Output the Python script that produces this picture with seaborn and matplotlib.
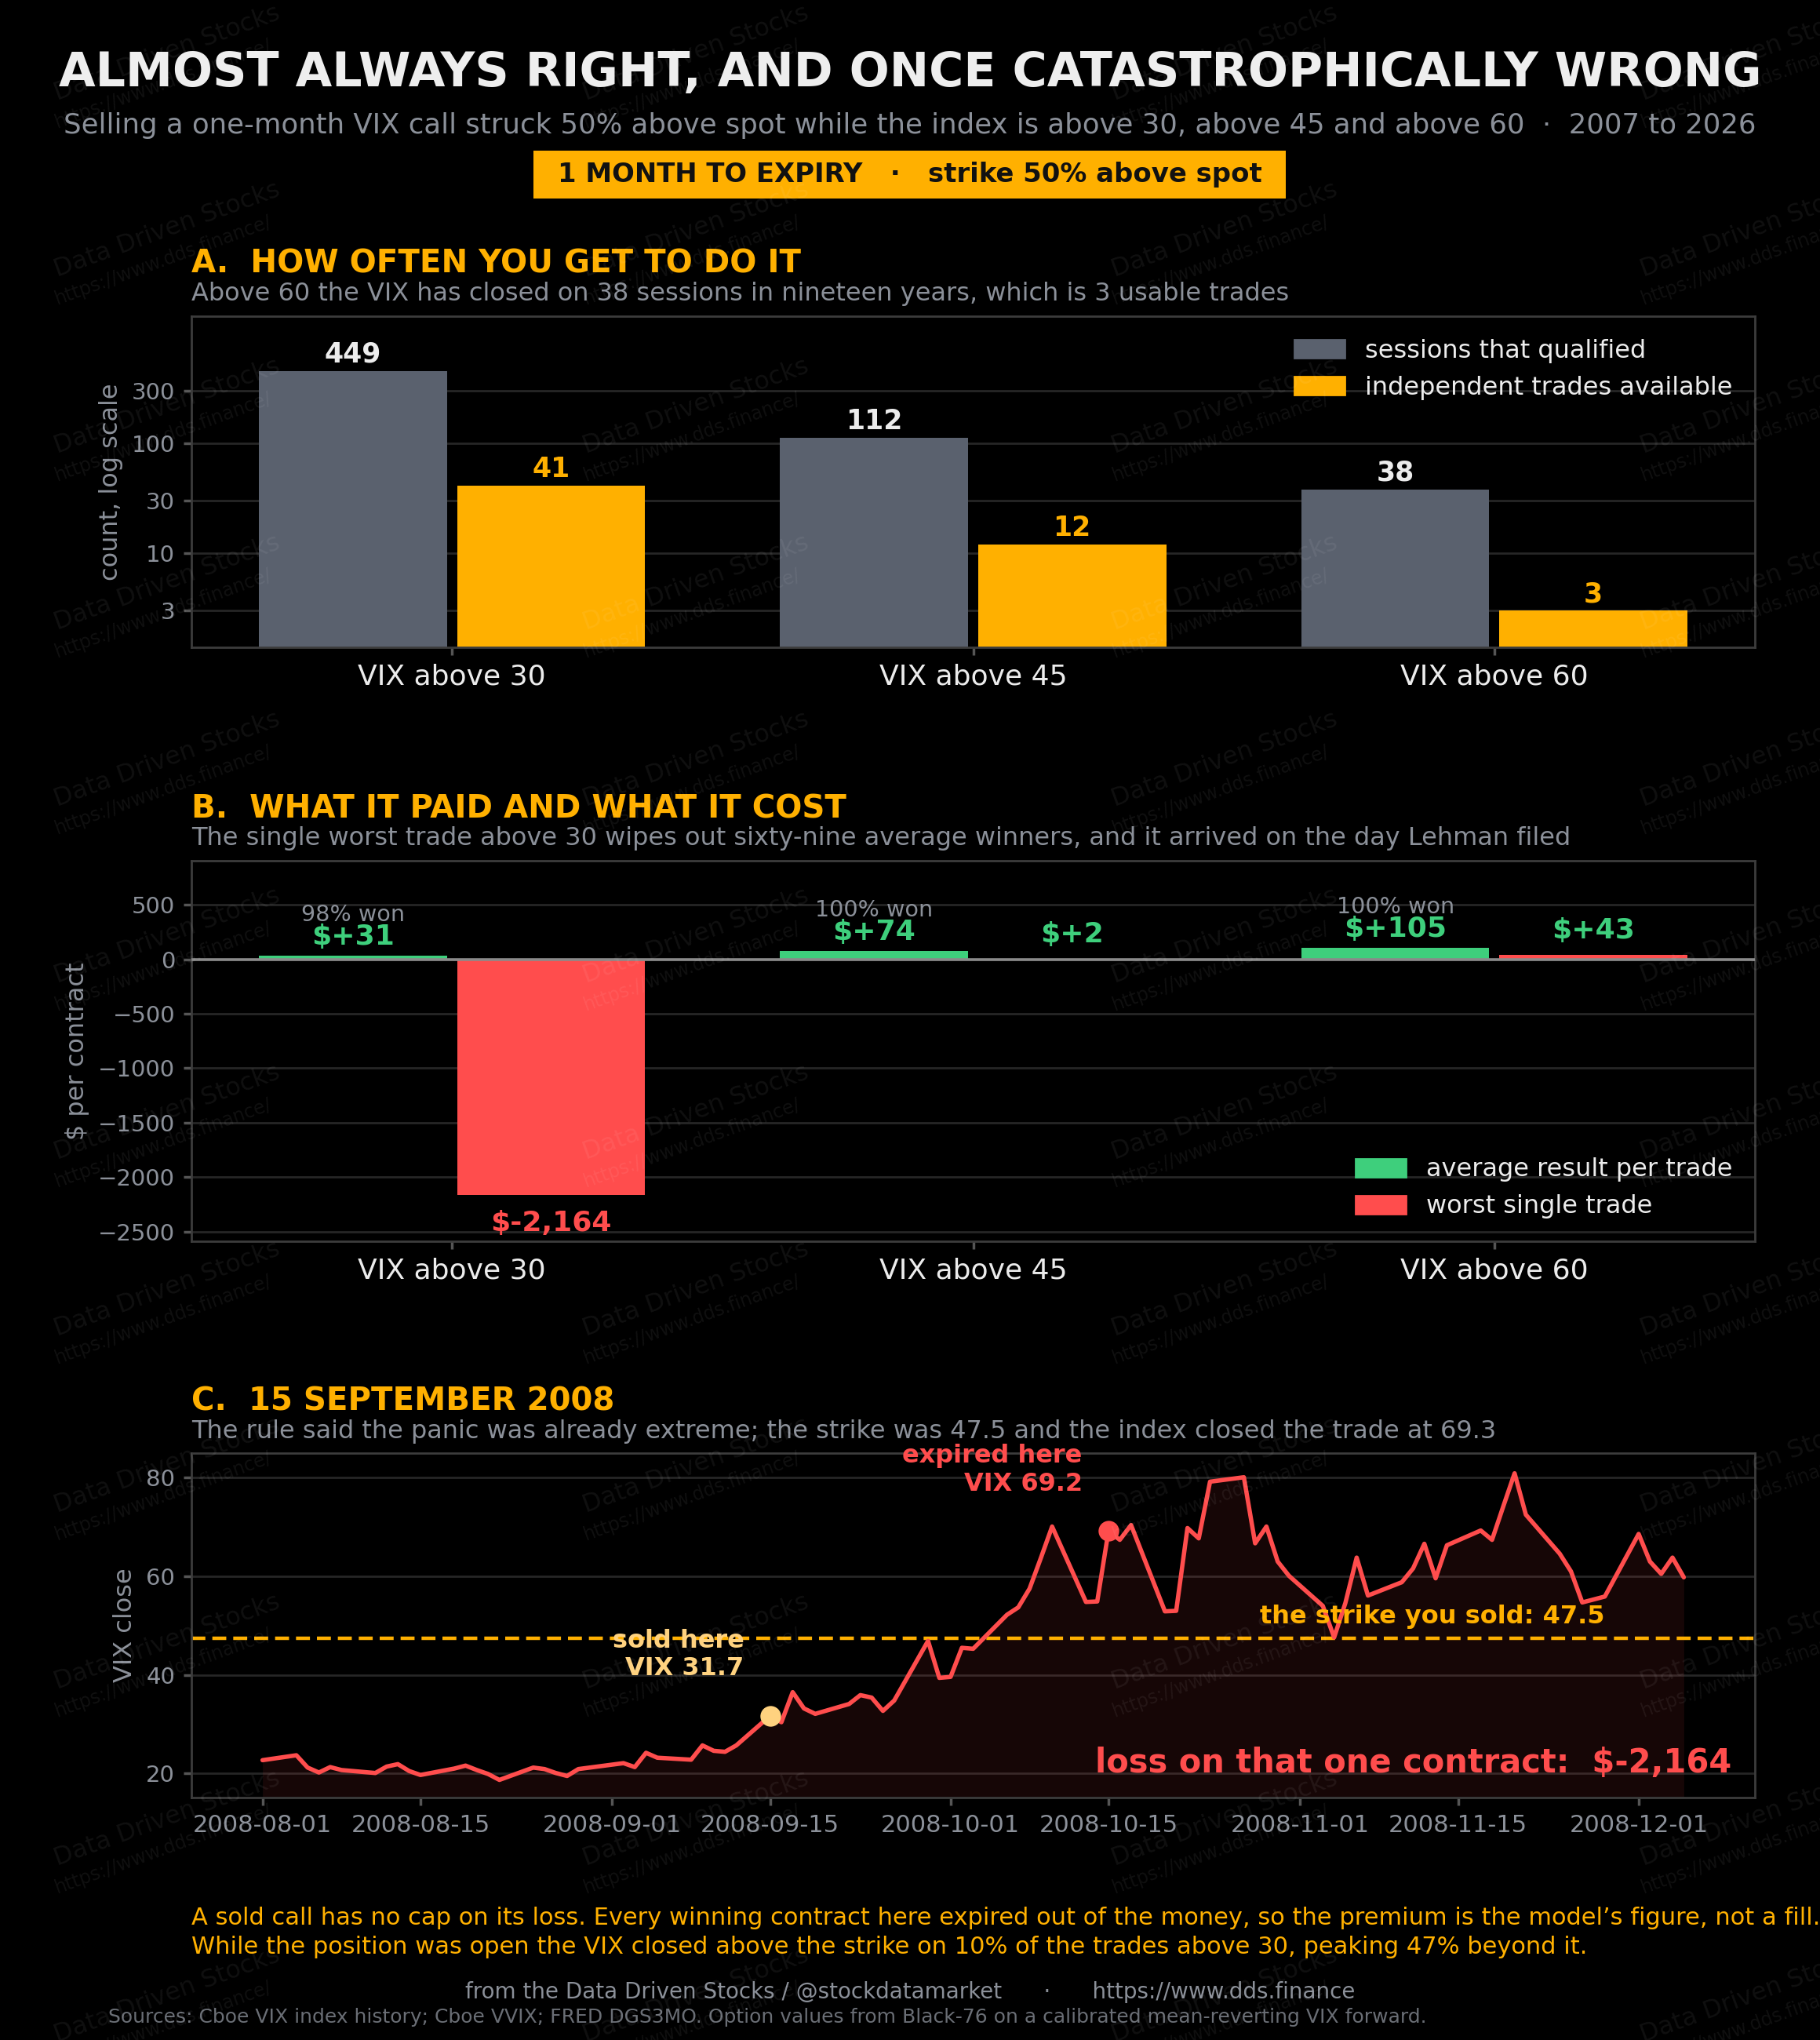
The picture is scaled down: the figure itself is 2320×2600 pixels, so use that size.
import numpy as np
import pandas as pd
import matplotlib
matplotlib.use("Agg")
import matplotlib.pyplot as plt
import matplotlib.dates as mdates
from matplotlib.patches import Rectangle, Patch
from matplotlib.ticker import NullLocator, FixedLocator
import seaborn as sns

# ------------------------------------------------------------
# data
# ------------------------------------------------------------
GROUPS = ["VIX above 30", "VIX above 45", "VIX above 60"]
SESSIONS = [449, 112, 38]
TRADES = [41, 12, 3]

AVG_RESULT = [31, 74, 105]
WORST_TRADE = [-2164, 2, 43]
WIN_RATE = [98, 100, 100]

AUG = ["2008-08-%02d" % d for d in [1, 4, 5, 6, 7, 8, 11, 12, 13, 14, 15, 18, 19, 20, 21, 22, 25, 26, 27, 28, 29]]
SEP = ["2008-09-%02d" % d for d in [2, 3, 4, 5, 8, 9, 10, 11, 12, 15, 16, 17, 18, 19, 22, 23, 24, 25, 26, 29, 30]]
OCT = ["2008-10-%02d" % d for d in [1, 2, 3, 6, 7, 8, 9, 10, 13, 14, 15, 16, 17, 20, 21, 22, 23, 24, 27, 28, 29, 30, 31]]
NOV = ["2008-11-%02d" % d for d in [3, 4, 5, 6, 7, 10, 11, 12, 13, 14, 17, 18, 19, 20, 21, 24, 25, 26, 28]]
DEC = ["2008-12-%02d" % d for d in [1, 2, 3, 4, 5]]
VIX_DATES = AUG + SEP + OCT + NOV + DEC

VIX_AUG = [22.7, 23.7, 21.2, 20.2, 21.3, 20.7, 20.1, 21.4, 21.9, 20.5, 19.7,
           21.0, 21.6, 20.7, 19.9, 18.7, 21.2, 20.9, 20.1, 19.5, 20.9]
VIX_SEP = [22.1, 21.3, 24.2, 23.2, 22.8, 25.7, 24.6, 24.4, 25.7, 31.7, 30.4,
           36.5, 33.2, 32.1, 34.1, 35.9, 35.4, 32.7, 34.8, 46.9, 39.4]
VIX_OCT = [39.6, 45.5, 45.3, 52.2, 53.7, 57.5, 63.7, 70.1, 54.8, 54.9, 69.2, 67.4,
           70.4, 52.9, 53.0, 69.8, 67.7, 79.2, 80.1, 66.7, 70.1, 63.0, 60.1]
VIX_NOV = [54.0, 47.6, 54.6, 63.8, 56.1, 58.8, 61.6, 66.6, 59.6, 66.3, 69.3, 67.4,
           74.2, 80.9, 72.5, 64.6, 61.0, 54.7, 55.9]
VIX_DEC = [68.6, 63.0, 60.5, 63.8, 59.8]
VIX_CLOSE = VIX_AUG + VIX_SEP + VIX_OCT + VIX_NOV + VIX_DEC

SOLD_DATE, SOLD_VIX = "2008-09-15", 31.7
EXPIRY_DATE, EXPIRY_VIX = "2008-10-15", 69.2
STRIKE = 47.5
LOSS = -2164

# ------------------------------------------------------------
# style
# ------------------------------------------------------------
BG = "#000000"
GREY_BAR = "#5a616e"
AMBER = "#ffb000"
LIGHT_AMBER = "#ffd27f"
GREEN = "#3ecf7c"
RED = "#ff4d4d"
TEXT = "#ececec"
MUTED = "#8b9099"
DIM = "#6a6e75"
GRID = "#262626"
SPINE = "#3c3c3c"
TICK = "#555555"

sns.set_theme(style="darkgrid", rc={
    "figure.facecolor": BG, "axes.facecolor": BG, "savefig.facecolor": BG,
    "axes.edgecolor": SPINE, "axes.linewidth": 1.0,
    "grid.color": GRID, "grid.linewidth": 1.0,
    "axes.grid": True, "axes.grid.axis": "y",
    "xtick.bottom": True, "ytick.left": True,
    "xtick.color": TICK, "ytick.color": TICK,
    "xtick.major.size": 3.5, "ytick.major.size": 3.5,
    "xtick.major.pad": 4, "ytick.major.pad": 4,
    "axes.labelcolor": MUTED, "text.color": TEXT,
})
plt.rcParams["font.family"] = ["DejaVu Sans"]

fig = plt.figure(figsize=(11.6, 13), dpi=200)

L, W = 0.1052, 0.859
ax_a = fig.add_axes([L, 0.6827, W, 0.1623])
ax_b = fig.add_axes([L, 0.3915, W, 0.1866])
ax_c = fig.add_axes([L, 0.1188, W, 0.1689])

# ------------------------------------------------------------
# header
# ------------------------------------------------------------
fig.text(0.5, 0.9577, "ALMOST ALWAYS RIGHT, AND ONCE CATASTROPHICALLY WRONG",
         ha="center", va="baseline", fontsize=21.7, fontweight="bold", color="#eeeeee")
fig.text(0.5, 0.9346, "Selling a one-month VIX call struck 50% above spot while the index is above 30, "
         "above 45 and above 60  \u00b7  2007 to 2026",
         ha="center", va="baseline", fontsize=12.8, color=MUTED)
fig.add_artist(Rectangle((0.293, 0.9027), 0.4135, 0.0235, transform=fig.transFigure,
                         facecolor=AMBER, edgecolor="none"))
fig.text(0.5, 0.9108, "1 MONTH TO EXPIRY   \u00b7   strike 50% above spot",
         ha="center", va="baseline", fontsize=12.2, fontweight="bold", color="#111111")


def section(y, head, sub):
    fig.text(L, y, head, ha="left", va="baseline", fontsize=14.5, fontweight="bold", color=AMBER)
    fig.text(L, y - 0.0135, sub, ha="left", va="baseline", fontsize=11.5, color=MUTED)


section(0.8662, "A.  HOW OFTEN YOU GET TO DO IT",
        "Above 60 the VIX has closed on 38 sessions in nineteen years, which is 3 usable trades")
section(0.5992, "B.  WHAT IT PAID AND WHAT IT COST",
        "The single worst trade above 30 wipes out sixty-nine average winners, and it arrived on the day Lehman filed")
section(0.3085, "C.  15 SEPTEMBER 2008",
        "The rule said the panic was already extreme; the strike was 47.5 and the index closed the trade at 69.3")

# ------------------------------------------------------------
# A. counts (log scale)
# ------------------------------------------------------------
lab_a = ["sessions that qualified", "independent trades available"]
df_a = pd.DataFrame({
    "group": GROUPS * 2,
    "count": SESSIONS + TRADES,
    "series": [lab_a[0]] * 3 + [lab_a[1]] * 3,
})
sns.barplot(df_a, x="group", y="count", hue="series", palette=[GREY_BAR, AMBER],
            width=0.76, gap=0.05, saturation=1, errorbar=None, legend=False,
            linewidth=0, edgecolor="none", ax=ax_a)
ax_a.set_yscale("log")
ax_a.set_ylim(1.4, 1415)
ax_a.yaxis.set_major_locator(FixedLocator([3, 10, 30, 100, 300]))
ax_a.yaxis.set_minor_locator(NullLocator())
ax_a.set_yticklabels(["3", "10", "30", "100", "300"])
for cont, col in zip(ax_a.containers, [TEXT, AMBER]):
    ax_a.bar_label(cont, fmt="{:.0f}", padding=1.5, color=col, fontsize=12.5, fontweight="bold")
ax_a.set_xlim(-0.5, 2.5)
ax_a.set_xlabel("")
ax_a.set_ylabel("count, log scale", fontsize=11.5, color=MUTED)
ax_a.legend(handles=[Patch(color=GREY_BAR, label=lab_a[0]), Patch(color=AMBER, label=lab_a[1])],
            loc="upper right", frameon=False, fontsize=11.5, labelcolor=TEXT,
            handlelength=2.0, handleheight=0.75)

# ------------------------------------------------------------
# B. results
# ------------------------------------------------------------
lab_b = ["average result per trade", "worst single trade"]
df_b = pd.DataFrame({
    "group": GROUPS * 2,
    "dollars": AVG_RESULT + WORST_TRADE,
    "series": [lab_b[0]] * 3 + [lab_b[1]] * 3,
})
sns.barplot(df_b, x="group", y="dollars", hue="series", palette=[GREEN, RED],
            width=0.76, gap=0.05, saturation=1, errorbar=None, legend=False,
            linewidth=0, edgecolor="none", ax=ax_b)
ax_b.axhline(0, color="#8a8a8a", lw=1.3, zorder=3)
ax_b.set_ylim(-2590, 905)
ax_b.set_yticks([500, 0, -500, -1000, -1500, -2000, -2500])
ax_b.set_xlim(-0.5, 2.5)
ax_b.set_xlabel("")
ax_b.set_ylabel("$ per contract", fontsize=11.5, color=MUTED)

for bar, v, w in zip(ax_b.containers[0], AVG_RESULT, WIN_RATE):
    cx = bar.get_x() + bar.get_width() / 2
    ax_b.text(cx, v + 173, f"${v:+,}", ha="center", va="center", color=GREEN,
              fontsize=13, fontweight="bold")
    ax_b.text(cx, v + 375, f"{w}% won", ha="center", va="center", color=MUTED, fontsize=10.3)
for bar, v in zip(ax_b.containers[1], WORST_TRADE):
    cx = bar.get_x() + bar.get_width() / 2
    if v < 0:
        ax_b.text(cx, v - 262, f"${v:+,}", ha="center", va="center", color=RED,
                  fontsize=13, fontweight="bold")
    else:
        ax_b.text(cx, v + 222, f"${v:+,}", ha="center", va="center", color=GREEN,
                  fontsize=13, fontweight="bold")
ax_b.legend(handles=[Patch(color=GREEN, label=lab_b[0]), Patch(color=RED, label=lab_b[1])],
            loc="lower right", frameon=False, fontsize=11.5, labelcolor=TEXT,
            handlelength=2.0, handleheight=0.75)

for ax in (ax_a, ax_b):
    ax.tick_params(axis="x", labelsize=13, labelcolor=TEXT)
    ax.tick_params(axis="y", labelsize=10.5, labelcolor=MUTED)

# ------------------------------------------------------------
# C. the Lehman trade
# ------------------------------------------------------------
df_c = pd.DataFrame({"date": pd.to_datetime(VIX_DATES), "vix": VIX_CLOSE})
ax_c.fill_between(df_c["date"], df_c["vix"], 0, color=RED, alpha=0.09, lw=0, zorder=2)
sns.lineplot(df_c, x="date", y="vix", color=RED, lw=2, ax=ax_c, zorder=3)
ax_c.axhline(STRIKE, color=AMBER, lw=1.6, ls=(0, (4, 2)), zorder=2.5)

sold_x, exp_x = pd.Timestamp(SOLD_DATE), pd.Timestamp(EXPIRY_DATE)
ax_c.scatter([sold_x], [SOLD_VIX], s=90, color=LIGHT_AMBER, zorder=4, lw=0)
ax_c.scatter([exp_x], [EXPIRY_VIX], s=90, color=RED, zorder=4, lw=0)
ax_c.annotate(f"sold here\nVIX {SOLD_VIX}", xy=(sold_x, SOLD_VIX), xytext=(-12, 16),
              textcoords="offset points", ha="right", va="bottom", color=LIGHT_AMBER,
              fontsize=11.5, fontweight="bold", zorder=5)
ax_c.annotate(f"expired here\nVIX {EXPIRY_VIX}", xy=(exp_x, EXPIRY_VIX), xytext=(-12, 16),
              textcoords="offset points", ha="right", va="bottom", color=RED,
              fontsize=11.5, fontweight="bold", zorder=5)
ax_c.annotate(f"the strike you sold: {STRIKE}", xy=(0.904, STRIKE),
              xycoords=("axes fraction", "data"), xytext=(0, 4), textcoords="offset points",
              ha="right", va="bottom", color=AMBER, fontsize=11.5, fontweight="bold")
ax_c.text(0.985, 0.10, f"loss on that one contract:  ${LOSS:+,}", transform=ax_c.transAxes,
          ha="right", va="center", color=RED, fontsize=15, fontweight="bold")

ax_c.set_ylim(15.1, 85)
ax_c.set_yticks([20, 40, 60, 80])
ax_c.xaxis.set_major_locator(mdates.DayLocator(bymonthday=[1, 15]))
ax_c.xaxis.set_major_formatter(mdates.DateFormatter("%Y-%m-%d"))
ax_c.set_xlabel("")
ax_c.set_ylabel("VIX close", fontsize=11.5, color=MUTED)
ax_c.tick_params(axis="x", labelsize=11, labelcolor=MUTED)
ax_c.tick_params(axis="y", labelsize=10.5, labelcolor=MUTED)

for ax in (ax_a, ax_b, ax_c):
    for sp in ax.spines.values():
        sp.set_visible(True)
        sp.set_color(SPINE)
    ax.grid(axis="x", visible=False)
    ax.grid(axis="y", color=GRID, lw=1.0)
    ax.set_axisbelow(True)

# ------------------------------------------------------------
# footer
# ------------------------------------------------------------
fig.text(L, 0.0565, "A sold call has no cap on its loss. Every winning contract here expired out of the money, "
         "so the premium is the model\u2019s figure, not a fill.",
         ha="left", va="baseline", fontsize=11, color=AMBER)
fig.text(L, 0.0423, "While the position was open the VIX closed above the strike on 10% of the trades "
         "above 30, peaking 47% beyond it.",
         ha="left", va="baseline", fontsize=11, color=AMBER)
fig.text(0.5, 0.0204, "from the Data Driven Stocks / @stockdatamarket      \u00b7      https://www.dds.finance",
         ha="center", va="baseline", fontsize=10, color=MUTED)
fig.text(0.4218, 0.0085, "Sources: Cboe VIX index history; Cboe VVIX; FRED DGS3MO. Option values from "
         "Black-76 on a calibrated mean-reverting VIX forward.",
         ha="center", va="baseline", fontsize=9, color=DIM)

# watermark grid
W_PX, H_PX = 2320, 2600
for i in range(4):
    for j in range(12):
        x0 = (73 + 674 * i) / W_PX
        y0 = 1 - (128 + 225 * j) / H_PX
        fig.text(x0, y0, "Data Driven Stocks", rotation=20, rotation_mode="anchor",
                 ha="left", va="baseline", fontsize=11.4, color="white", alpha=0.065, zorder=10)
        fig.text(x0, y0 - 35 / H_PX, "https://www.dds.finance/", rotation=20, rotation_mode="anchor",
                 ha="left", va="baseline", fontsize=8.5, color="white", alpha=0.065, zorder=10)

fig.savefig("out.png", dpi=200, facecolor=BG)
